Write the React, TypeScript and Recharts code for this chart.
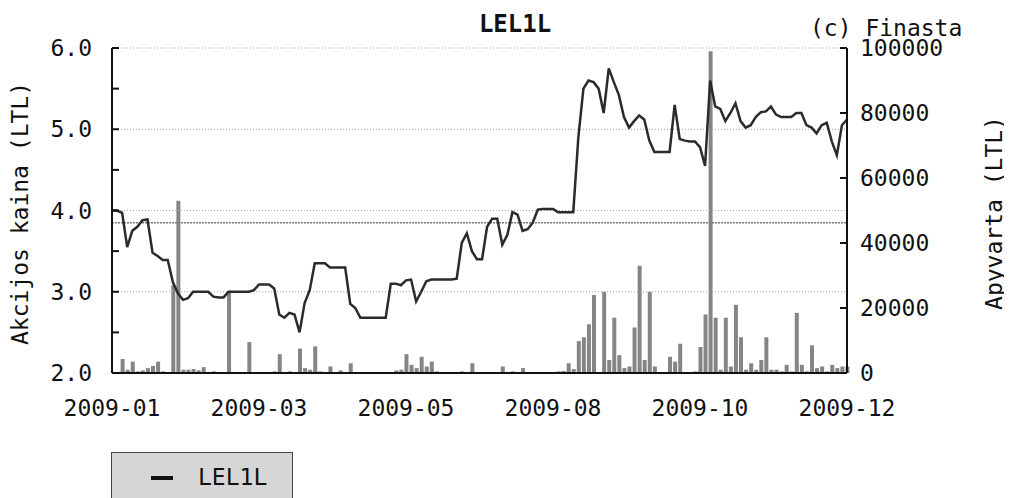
import {
  ComposedChart,
  Bar,
  Line,
  XAxis,
  YAxis,
  ReferenceLine,
  Label,
} from "recharts";

const FONT = "'DejaVu Sans Mono', monospace";

const xLabels = ["2009-01", "2009-03", "2009-05", "2009-08", "2009-10", "2009-12"];
const xTickIdx = [0, 29, 58, 87, 116, 145];

const priceTicks = [2, 2.5, 3, 3.5, 4, 4.5, 5, 5.5, 6];
const priceGrid = [3, 4, 5, 6];
const volumeTicks = [0, 20000, 40000, 60000, 80000, 100000];
const refPrice = 3.85;

// daily close (LTL)
const price = [
  4.0, 4.0, 3.97, 3.55, 3.75, 3.8, 3.88, 3.89, 3.48, 3.44,
  3.39, 3.39, 3.12, 2.98, 2.9, 2.92, 3.0, 3.0, 3.0, 3.0,
  2.94, 2.93, 2.93, 3.0, 3.0, 3.0, 3.0, 3.0, 3.02, 3.09,
  3.09, 3.09, 3.04, 2.72, 2.68, 2.74, 2.72, 2.5, 2.86, 3.02,
  3.35, 3.35, 3.35, 3.3, 3.3, 3.3, 3.3, 2.85, 2.8, 2.68,
  2.68, 2.68, 2.68, 2.68, 2.68, 3.1, 3.1, 3.08, 3.14, 3.15,
  2.88, 3.0, 3.13, 3.15, 3.15, 3.15, 3.15, 3.15, 3.16, 3.6,
  3.72, 3.5, 3.4, 3.4, 3.8, 3.9, 3.9, 3.58, 3.7, 3.98,
  3.95, 3.75, 3.77, 3.85, 4.01, 4.02, 4.02, 4.02, 3.98, 3.98,
  3.98, 3.98, 4.9, 5.5, 5.6, 5.58, 5.5, 5.2, 5.75, 5.58,
  5.42, 5.15, 5.02, 5.1, 5.17, 5.12, 4.86, 4.72, 4.72, 4.72,
  4.72, 5.3, 4.88, 4.86, 4.85, 4.85, 4.78, 4.55, 5.6, 5.28,
  5.25, 5.1, 5.2, 5.32, 5.1, 5.02, 5.05, 5.15, 5.21, 5.22,
  5.28, 5.18, 5.15, 5.15, 5.15, 5.2, 5.2, 5.05, 5.02, 4.95,
  5.05, 5.08, 4.85, 4.68, 5.05, 5.12,
];

// daily turnover (LTL)
const volume = [
  0, 0, 4300, 1000, 3500, 500, 800, 1500, 2200, 3500,
  500, 0, 27000, 53000, 1000, 1000, 1200, 800, 1800, 0,
  500, 0, 0, 25000, 0, 0, 0, 9500, 0, 300,
  0, 0, 500, 5800, 0, 500, 300, 7500, 1500, 1000,
  8200, 500, 0, 2000, 0, 800, 0, 3000, 0, 0,
  0, 0, 300, 0, 0, 0, 800, 1000, 5800, 2500,
  1500, 5000, 2000, 3500, 500, 0, 0, 0, 0, 500,
  0, 3000, 0, 0, 0, 0, 0, 2000, 0, 500,
  0, 1500, 300, 300, 0, 0, 0, 0, 500, 600,
  3000, 1200, 9800, 11000, 15000, 24000, 0, 25000, 4000, 17000,
  5500, 1500, 2000, 14000, 33000, 4000, 25000, 2000, 0, 0,
  5000, 3500, 9000, 0, 0, 500, 8000, 18000, 99000, 17000,
  1000, 17000, 2000, 21000, 11000, 1000, 3000, 1000, 4000, 11000,
  1000, 1000, 500, 2500, 500, 18500, 2500, 500, 8500, 1500,
  2000, 500, 2500, 1500, 2000, 2000,
];

const data = price.map((p, i) => ({ i, price: p, volume: volume[i] }));

const tickStyle = { fontFamily: FONT, fontSize: 23, fill: "#111" };

export default function App() {
  return (
    <div style={{ position: "relative", width: 996, height: 490 }}>
      <div
        style={{
          position: "absolute",
          left: 407,
          top: 4,
          width: 200,
          textAlign: "center",
          fontFamily: FONT,
          fontWeight: "bold",
          fontSize: 24,
          lineHeight: "24px",
          color: "#111",
        }}
      >
        LEL1L
      </div>
      <div
        style={{
          position: "absolute",
          left: 802,
          top: 9,
          fontFamily: FONT,
          fontSize: 23,
          lineHeight: "23px",
          color: "#111",
          whiteSpace: "nowrap",
        }}
      >
        (c) Finasta
      </div>

      <ComposedChart
        width={996}
        height={440}
        data={data}
        margin={{ top: 40, right: 77, bottom: 15, left: 44 }}
      >
        <XAxis
          dataKey="i"
          type="number"
          domain={[0, 145]}
          ticks={xTickIdx}
          interval={0}
          tickFormatter={(v: number) => xLabels[xTickIdx.indexOf(v)] ?? ""}
          tick={tickStyle}
          tickLine={false}
          tickSize={0}
          tickMargin={27}
          height={60}
          axisLine={{ stroke: "#111", strokeWidth: 2 }}
        />
        <YAxis
          yAxisId="p"
          orientation="left"
          domain={[2, 6]}
          ticks={priceTicks}
          interval={0}
          width={60}
          tickFormatter={(v: number) => (Number.isInteger(v) ? v.toFixed(1) : "")}
          tick={tickStyle}
          tickSize={-7}
          tickMargin={27}
          tickLine={{ stroke: "#111", strokeWidth: 2 }}
          axisLine={{ stroke: "#111", strokeWidth: 2 }}
        >
          <Label
            content={({ viewBox }: any) => {
              const x = viewBox.x - 32;
              const y = viewBox.y + viewBox.height / 2 + 3;
              return (
                <text
                  x={x}
                  y={y}
                  transform={`rotate(-90 ${x} ${y})`}
                  textAnchor="middle"
                  dominantBaseline="central"
                  fontFamily={FONT}
                  fontSize={23}
                  fill="#111"
                >
                  Akcijos kaina (LTL)
                </text>
              );
            }}
          />
        </YAxis>
        <YAxis
          yAxisId="v"
          orientation="right"
          domain={[0, 100000]}
          ticks={volumeTicks}
          interval={0}
          width={80}
          tick={{ ...tickStyle, textAnchor: "start" }}
          tickSize={-7}
          tickMargin={20}
          tickLine={{ stroke: "#111", strokeWidth: 2 }}
          axisLine={{ stroke: "#111", strokeWidth: 2 }}
        />

        {priceGrid.map((v) => (
          <ReferenceLine
            key={v}
            yAxisId="p"
            y={v}
            stroke="#a0a0a0"
            strokeDasharray="1 2"
          />
        ))}
        <ReferenceLine
          yAxisId="p"
          y={refPrice}
          stroke="#7a7a7a"
          strokeWidth={1.5}
          strokeDasharray="2 1"
        />

        <Bar
          yAxisId="v"
          dataKey="volume"
          fill="#858585"
          barSize={4}
          isAnimationActive={false}
        />
        <Line
          yAxisId="p"
          dataKey="price"
          type="linear"
          stroke="#2b2b2b"
          strokeWidth={2.5}
          dot={false}
          activeDot={false}
          isAnimationActive={false}
        />
      </ComposedChart>

      <div
        style={{
          position: "absolute",
          left: 986,
          top: 205,
          transform: "translate(-50%, -50%) rotate(-90deg)",
          fontFamily: FONT,
          fontSize: 23,
          lineHeight: "20px",
          color: "#111",
          whiteSpace: "nowrap",
        }}
      >
        Apyvarta (LTL)
      </div>

      <div
        style={{
          position: "absolute",
          left: 103,
          top: 444,
          width: 180,
          height: 46,
          background: "#d6d6d6",
          border: "1px solid #444",
          borderBottom: "none",
        }}
      >
        <div
          style={{
            position: "absolute",
            left: 39,
            top: 23,
            width: 22,
            height: 4,
            background: "#111",
          }}
        />
        <div
          style={{
            position: "absolute",
            left: 86,
            top: 13,
            fontFamily: FONT,
            fontSize: 23,
            lineHeight: "23px",
            color: "#111",
          }}
        >
          LEL1L
        </div>
      </div>
    </div>
  );
}
